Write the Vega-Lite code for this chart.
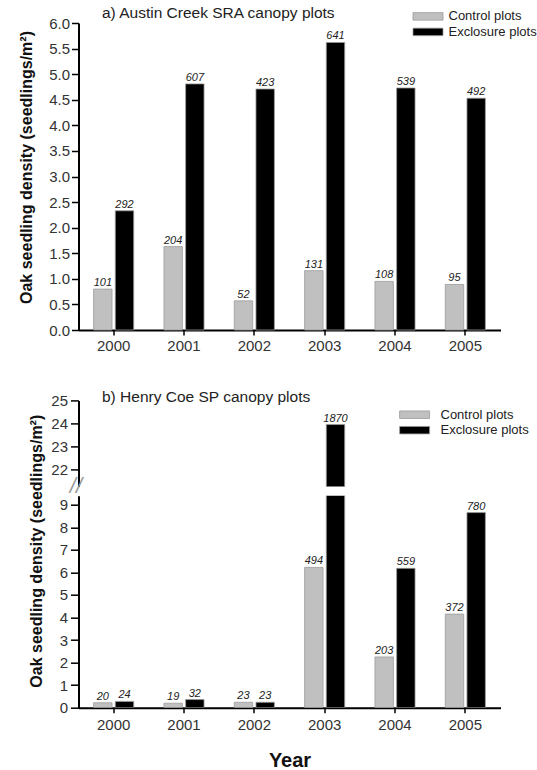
{
  "$schema": "https://vega.github.io/schema/vega-lite/v6.json",
  "padding": {"left": 17.5, "top": 6, "right": 0, "bottom": 0},
  "background": "white",
  "config": {
    "font": "Liberation Sans",
    "view": {"stroke": null},
    "axis": {"domainColor": "#000", "domainWidth": 2, "tickColor": "#000", "tickWidth": 1.5, "grid": false, "labelColor": "#333", "labelFontSize": 15, "titleColor": "#111", "labelOverlap": false},
    "title": {"fontSize": 15.5, "fontWeight": "normal", "color": "#222", "anchor": "start", "frame": "group"}
  },
  "datasets": {
    "austin": [
      {"year": "2000", "group": "Control plots", "density": 0.80, "n": 101},
      {"year": "2000", "group": "Exclosure plots", "density": 2.33, "n": 292},
      {"year": "2001", "group": "Control plots", "density": 1.63, "n": 204},
      {"year": "2001", "group": "Exclosure plots", "density": 4.81, "n": 607},
      {"year": "2002", "group": "Control plots", "density": 0.57, "n": 52},
      {"year": "2002", "group": "Exclosure plots", "density": 4.71, "n": 423},
      {"year": "2003", "group": "Control plots", "density": 1.16, "n": 131},
      {"year": "2003", "group": "Exclosure plots", "density": 5.62, "n": 641},
      {"year": "2004", "group": "Control plots", "density": 0.95, "n": 108},
      {"year": "2004", "group": "Exclosure plots", "density": 4.73, "n": 539},
      {"year": "2005", "group": "Control plots", "density": 0.89, "n": 95},
      {"year": "2005", "group": "Exclosure plots", "density": 4.53, "n": 492}
    ],
    "henry": [
      {"year": "2000", "group": "Control plots", "density": 0.22, "n": 20},
      {"year": "2000", "group": "Exclosure plots", "density": 0.28, "n": 24},
      {"year": "2001", "group": "Control plots", "density": 0.20, "n": 19},
      {"year": "2001", "group": "Exclosure plots", "density": 0.36, "n": 32},
      {"year": "2002", "group": "Control plots", "density": 0.24, "n": 23},
      {"year": "2002", "group": "Exclosure plots", "density": 0.24, "n": 23},
      {"year": "2003", "group": "Control plots", "density": 6.22, "n": 494},
      {"year": "2003", "group": "Exclosure plots", "density": 23.95, "n": 1870},
      {"year": "2004", "group": "Control plots", "density": 2.25, "n": 203},
      {"year": "2004", "group": "Exclosure plots", "density": 6.18, "n": 559},
      {"year": "2005", "group": "Control plots", "density": 4.15, "n": 372},
      {"year": "2005", "group": "Exclosure plots", "density": 8.65, "n": 780}
    ],
    "brk": [{"sym": "//"}]
  },
  "bounds": "flush",
  "spacing": 70.4,
  "resolve": {"scale": {"x": "independent", "y": "independent"}, "legend": {"color": "independent"}},
  "vconcat": [
    {
      "data": {"name": "austin"},
      "width": 422,
      "height": 307,
      "title": {"text": "a) Austin Creek SRA canopy plots", "dx": 23.5, "offset": -13.4},
      "encoding": {
        "x": {"field": "year", "type": "nominal", "scale": {"paddingInner": 0.43, "paddingOuter": 0.215}, "axis": {"title": null, "labelAngle": 0, "tickSize": 5, "labelPadding": 3}},
        "xOffset": {"field": "group", "type": "nominal", "scale": {"paddingInner": 0.15}},
        "y": {"field": "density", "type": "quantitative", "scale": {"domain": [0, 6], "nice": false}, "axis": {"values": [0, 0.5, 1, 1.5, 2, 2.5, 3, 3.5, 4, 4.5, 5, 5.5, 6], "format": ".1f", "tickSize": 7, "labelPadding": 2, "labelOverlap": false, "title": "Oak seedling density (seedlings/m²)", "titleFontSize": 16, "titleFontWeight": "bold", "titlePadding": 14.5, "titleY": 144}}
      },
      "layer": [
        {
          "mark": {"type": "bar", "stroke": "#9a9a9a", "strokeWidth": 0.8},
          "encoding": {
            "color": {"field": "group", "type": "nominal", "scale": {"domain": ["Control plots", "Exclosure plots"], "range": ["#c0c0c0", "#000000"]},
              "legend": {"title": null, "orient": "none", "legendX": 341.5, "legendY": -14.6, "symbolType": "M-2,-0.5H2V0.5H-2Z", "symbolSize": 225, "symbolStrokeColor": "#9a9a9a", "symbolStrokeWidth": 0.8, "labelFontSize": 13, "labelColor": "#222", "labelOffset": 12.5, "rowPadding": 0.5, "padding": 0}}
          }
        },
        {
          "mark": {"type": "text", "baseline": "alphabetic", "dy": -3, "fontSize": 11, "fontStyle": "italic", "color": "#222"},
          "encoding": {"text": {"field": "n", "type": "quantitative"}}
        }
      ]
    },
    {
      "bounds": "flush",
      "spacing": 9.3,
      "resolve": {"scale": {"x": "independent", "y": "independent"}, "legend": {"color": "independent"}},
      "vconcat": [
        {
          "data": {"name": "henry"},
          "width": 422,
          "height": 86,
          "title": {"text": "b) Henry Coe SP canopy plots", "dx": 23.5, "offset": -12.1},
          "encoding": {
            "x": {"field": "year", "type": "nominal", "scale": {"paddingInner": 0.43, "paddingOuter": 0.215}, "axis": null},
            "xOffset": {"field": "group", "type": "nominal", "scale": {"paddingInner": 0.15}},
            "y": {"field": "density", "type": "quantitative", "scale": {"domain": [21.26, 25], "nice": false}, "axis": {"values": [22, 23, 24, 25], "tickSize": 8, "labelPadding": 3, "labelOverlap": false, "title": null}}
          },
          "layer": [
            {
              "mark": {"type": "bar", "stroke": "#9a9a9a", "strokeWidth": 0.8, "clip": true},
              "encoding": {
                "color": {"field": "group", "type": "nominal", "scale": {"domain": ["Control plots", "Exclosure plots"], "range": ["#c0c0c0", "#000000"]},
                  "legend": {"title": null, "orient": "none", "legendX": 328.1, "legendY": 6.3, "symbolType": "M-2,-0.5H2V0.5H-2Z", "symbolSize": 225, "symbolStrokeColor": "#9a9a9a", "symbolStrokeWidth": 0.8, "labelFontSize": 13, "labelColor": "#222", "labelOffset": 17.9, "rowPadding": 0.5, "padding": 0}}
              }
            },
            {
              "transform": [{"filter": "datum.density > 9.4"}],
              "mark": {"type": "text", "baseline": "alphabetic", "dy": -3, "fontSize": 11, "fontStyle": "italic", "color": "#222"},
              "encoding": {"text": {"field": "n", "type": "quantitative"}}
            }
          ]
        },
        {
          "width": 422,
          "height": 212,
          "layer": [
            {
              "data": {"name": "henry"},
              "mark": {"type": "bar", "stroke": "#9a9a9a", "strokeWidth": 0.8, "clip": true},
              "encoding": {
                "x": {"field": "year", "type": "nominal", "scale": {"paddingInner": 0.43, "paddingOuter": 0.215}, "axis": {"title": "Year", "titleFontSize": 20, "titleFontWeight": "bold", "titlePadding": 18, "labelAngle": 0, "tickSize": 5, "labelPadding": 5}},
                "xOffset": {"field": "group", "type": "nominal", "scale": {"paddingInner": 0.15}},
                "y": {"field": "density", "type": "quantitative", "scale": {"domain": [0, 9.4], "nice": false}, "axis": {"values": [0, 1, 2, 3, 4, 5, 6, 7, 8, 9], "tickSize": 8, "labelPadding": 3, "labelOverlap": false, "title": "Oak seedling density (seedlings/m²)", "titleFontSize": 16, "titleFontWeight": "bold", "titlePadding": 14.5, "titleY": 55}},
                "color": {"field": "group", "type": "nominal", "scale": {"domain": ["Control plots", "Exclosure plots"], "range": ["#c0c0c0", "#000000"]}, "legend": null}
              }
            },
            {
              "data": {"name": "henry"},
              "transform": [{"filter": "datum.density < 9.4"}],
              "mark": {"type": "text", "baseline": "alphabetic", "dy": -3, "fontSize": 11, "fontStyle": "italic", "color": "#222"},
              "encoding": {
                "x": {"field": "year", "type": "nominal", "axis": {"title": "Year", "titleFontSize": 20, "titleFontWeight": "bold", "titlePadding": 18, "labelAngle": 0, "tickSize": 5, "labelPadding": 5}},
                "xOffset": {"field": "group", "type": "nominal"},
                "y": {"field": "density", "type": "quantitative", "axis": {"values": [0, 1, 2, 3, 4, 5, 6, 7, 8, 9], "tickSize": 8, "labelPadding": 3, "labelOverlap": false, "title": "Oak seedling density (seedlings/m²)", "titleFontSize": 16, "titleFontWeight": "bold", "titlePadding": 14.5, "titleY": 55}},
                "text": {"field": "n", "type": "quantitative"}
              }
            },
            {
              "data": {"name": "brk"},
              "mark": {"type": "text", "fontSize": 22, "fontStyle": "italic", "color": "#999", "baseline": "middle", "align": "center", "dx": -37.7, "dy": -10},
              "encoding": {
                "x": {"datum": "2000", "type": "nominal", "axis": {"title": "Year", "titleFontSize": 20, "titleFontWeight": "bold", "titlePadding": 18, "labelAngle": 0, "tickSize": 5, "labelPadding": 5}},
                "y": {"datum": 9.4, "type": "quantitative", "axis": {"values": [0, 1, 2, 3, 4, 5, 6, 7, 8, 9], "tickSize": 8, "labelPadding": 3, "labelOverlap": false, "title": "Oak seedling density (seedlings/m²)", "titleFontSize": 16, "titleFontWeight": "bold", "titlePadding": 14.5, "titleY": 55}},
                "text": {"field": "sym", "type": "nominal"}
              }
            }
          ]
        }
      ]
    }
  ]
}
